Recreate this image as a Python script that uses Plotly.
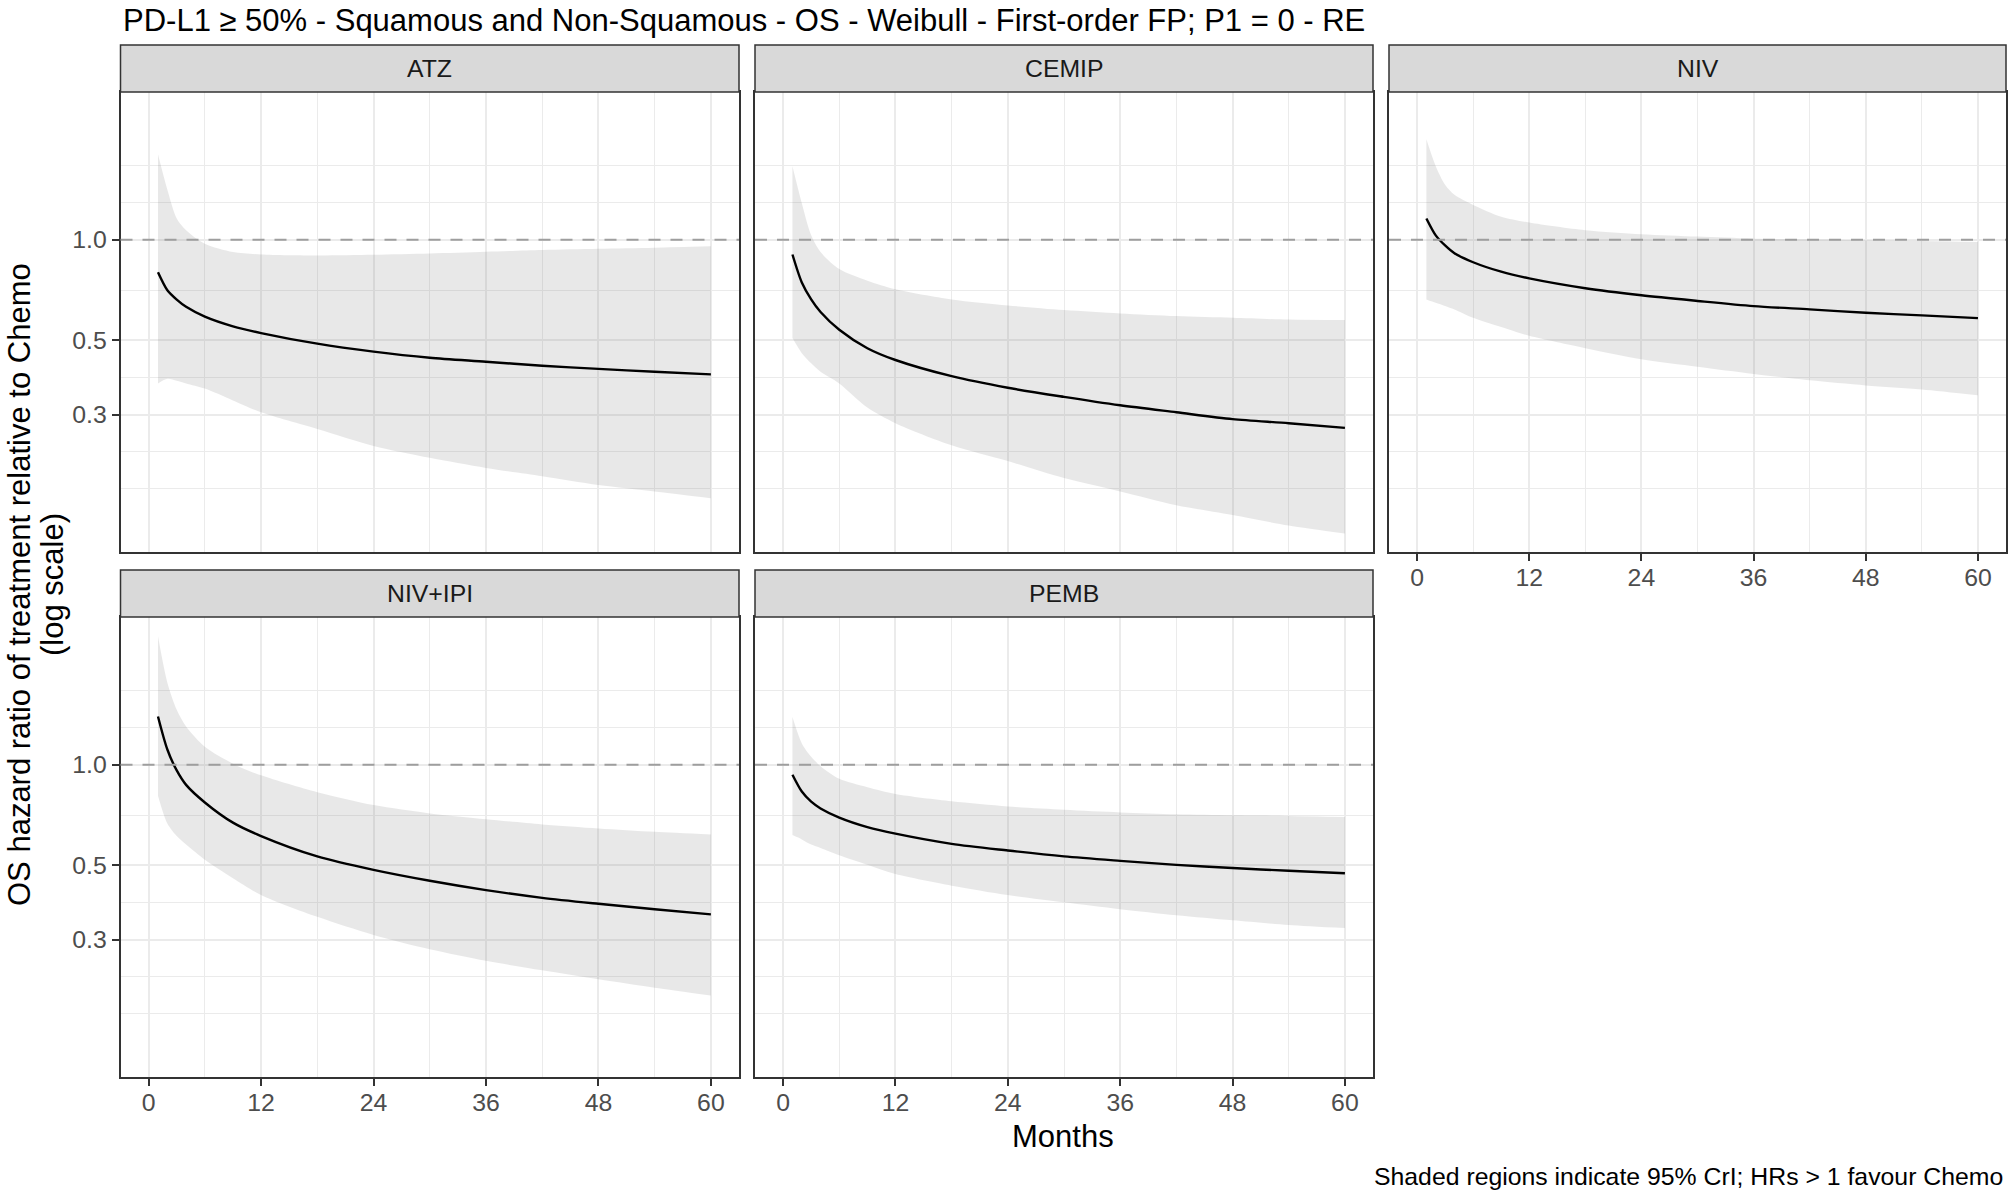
import numpy as np
import plotly.graph_objects as go

months = [1, 2, 3, 4, 6, 9, 12, 18, 24, 30, 36, 42, 48, 54, 60]

treatments = ["ATZ", "CEMIP", "NIV", "NIV+IPI", "PEMB"]

# hazard ratio (median) and 95% CrI per treatment
atz_hr = [0.799, 0.706, 0.662, 0.630, 0.589, 0.551, 0.526, 0.489, 0.463, 0.444, 0.432, 0.420, 0.411, 0.403, 0.396]
atz_hi = [1.80, 1.41, 1.157, 1.067, 0.972, 0.918, 0.903, 0.897, 0.901, 0.909, 0.920, 0.931, 0.939, 0.946, 0.955]
atz_lo = [0.372, 0.384, 0.379, 0.372, 0.359, 0.331, 0.305, 0.272, 0.242, 0.223, 0.208, 0.1965, 0.185, 0.177, 0.169]

cemip_hr = [0.903, 0.745, 0.663, 0.608, 0.538, 0.474, 0.437, 0.391, 0.361, 0.339, 0.320, 0.305, 0.291, 0.283, 0.274]
cemip_hi = [1.658, 1.284, 1.03, 0.918, 0.817, 0.754, 0.711, 0.663, 0.636, 0.616, 0.602, 0.591, 0.584, 0.577, 0.575]
cemip_lo = [0.508, 0.458, 0.427, 0.403, 0.372, 0.315, 0.283, 0.243, 0.218, 0.194, 0.177, 0.161, 0.1505, 0.140, 0.1325]

niv_hr = [1.157, 1.03, 0.961, 0.911, 0.856, 0.802, 0.766, 0.716, 0.682, 0.656, 0.633, 0.619, 0.605, 0.594, 0.583]
niv_hi = [1.995, 1.658, 1.459, 1.361, 1.27, 1.171, 1.125, 1.067, 1.038, 1.021, 1.007, 1.002, 0.995, 0.991, 0.984]
niv_lo = [0.663, 0.648, 0.634, 0.619, 0.584, 0.548, 0.516, 0.474, 0.439, 0.417, 0.397, 0.380, 0.367, 0.357, 0.343]

nivipi_hr = [1.393, 1.11, 0.961, 0.870, 0.771, 0.671, 0.612, 0.532, 0.485, 0.450, 0.422, 0.400, 0.384, 0.370, 0.357]
nivipi_hi = [2.418, 1.757, 1.459, 1.30, 1.131, 1.007, 0.929, 0.827, 0.757, 0.715, 0.687, 0.663, 0.645, 0.630, 0.619]
nivipi_lo = [0.808, 0.667, 0.612, 0.577, 0.520, 0.458, 0.408, 0.351, 0.310, 0.281, 0.2595, 0.243, 0.2285, 0.2157, 0.2044]

pemb_hr = [0.933, 0.831, 0.775, 0.740, 0.695, 0.651, 0.622, 0.580, 0.554, 0.532, 0.516, 0.502, 0.491, 0.482, 0.474]
pemb_hi = [1.387, 1.157, 1.055, 0.989, 0.907, 0.856, 0.817, 0.777, 0.750, 0.733, 0.720, 0.711, 0.706, 0.703, 0.698]
pemb_lo = [0.616, 0.598, 0.577, 0.564, 0.536, 0.502, 0.471, 0.435, 0.408, 0.388, 0.370, 0.355, 0.343, 0.332, 0.325]

hr_series = [atz_hr, cemip_hr, niv_hr, nivipi_hr, pemb_hr]
hi_series = [atz_hi, cemip_hi, niv_hi, nivipi_hi, pemb_hi]
lo_series = [atz_lo, cemip_lo, niv_lo, nivipi_lo, pemb_lo]

x_ticks = [0, 12, 24, 36, 48, 60]
y_ticks = [0.3, 0.5, 1.0]
y_ticktext = ["0.3", "0.5", "1.0"]

title = "PD-L1 \u2265 50% - Squamous and Non-Squamous - OS - Weibull - First-order FP; P1 = 0 - RE"
caption = "Shaded regions indicate 95% CrI; HRs > 1 favour Chemo"

# ---- layout geometry (pixels) ----
W, H = 2008, 1192
cols = [(120.5, 739), (755, 1373), (1389, 2006)]
rows = [(92, 552), (617, 1077)]
strip_h = 47
FONT = "Liberation Sans, Arial, sans-serif"
BASE = 31
SMALL = 24.8

# ggplot-style minor breaks on the log scale: midpoints between major breaks
lb = np.log10(y_ticks)
step = lb[1] - lb[0]
ext = np.concatenate([[lb[0] - step], lb, [lb[-1] + step]])
y_minor = list(10 ** ((ext[:-1] + ext[1:]) / 2)) + [10 ** ext[0], 10 ** ext[-1]]
x_minor = [6, 18, 30, 42, 54]

fig = go.Figure()
layout = dict(
    width=W, height=H,
    margin=dict(l=0, r=0, t=0, b=0),
    paper_bgcolor="white", plot_bgcolor="white",
    showlegend=False,
    font=dict(family=FONT, color="#1A1A1A"),
)
shapes = []
annotations = []

for i, name in enumerate(treatments):
    r, c = divmod(i, 3)
    n = i + 1
    xa = "x" if n == 1 else f"x{n}"
    ya = "y" if n == 1 else f"y{n}"

    fig.add_trace(go.Scatter(x=months, y=lo_series[i], mode="lines",
                             line=dict(width=0, shape="spline", smoothing=0.8),
                             hoverinfo="skip", xaxis=xa, yaxis=ya))
    fig.add_trace(go.Scatter(x=months, y=hi_series[i], mode="lines",
                             line=dict(width=0, shape="spline", smoothing=0.8),
                             fill="tonexty", fillcolor="rgba(128,128,128,0.18)",
                             hoverinfo="skip", xaxis=xa, yaxis=ya))
    fig.add_trace(go.Scatter(x=months, y=hr_series[i], mode="lines",
                             line=dict(color="black", width=2.4, shape="spline", smoothing=0.8),
                             xaxis=xa, yaxis=ya, name=name))

    x0, x1 = cols[c]
    y0, y1 = rows[r]
    show_x = (r == 1) or (c == 2)
    show_y = (c == 0)
    layout[f"xaxis{n if n > 1 else ''}"] = dict(
        domain=[x0 / W, x1 / W], anchor=ya, range=[-3, 63],
        tickvals=x_ticks, showticklabels=show_x,
        ticks="outside" if show_x else "", ticklen=7, tickwidth=1.5, tickcolor="#333333",
        tickfont=dict(size=SMALL, color="#4D4D4D", family=FONT),
        ticklabelstandoff=-5,
        showgrid=True, gridcolor="#EBEBEB", gridwidth=2,
        minor=dict(tickvals=x_minor, showgrid=True, gridcolor="#EBEBEB", gridwidth=1, ticks=""),
        showline=True, mirror=True, linecolor="#333333", linewidth=1.5,
        zeroline=False, fixedrange=True,
    )
    layout[f"yaxis{n if n > 1 else ''}"] = dict(
        domain=[1 - y1 / H, 1 - y0 / H], anchor=xa, type="log",
        range=[-0.933, 0.441],
        tickvals=y_ticks, ticktext=y_ticktext, showticklabels=show_y,
        ticks="outside" if show_y else "", ticklen=7, tickwidth=1.5, tickcolor="#333333",
        tickfont=dict(size=SMALL, color="#4D4D4D", family=FONT),
        showgrid=True, gridcolor="#EBEBEB", gridwidth=2,
        minor=dict(tickvals=y_minor, showgrid=True, gridcolor="#EBEBEB", gridwidth=1, ticks=""),
        showline=True, mirror=True, linecolor="#333333", linewidth=1.5,
        zeroline=False, fixedrange=True,
    )

    # reference line at HR = 1
    shapes.append(dict(type="line", xref=f"{xa} domain", yref=ya, x0=0, x1=1, y0=1, y1=1,
                       line=dict(color="#9E9E9E", width=2, dash="12px,10px"), layer="above"))
    # facet strip
    shapes.append(dict(type="rect", xref="paper", yref="paper",
                       x0=x0 / W, x1=x1 / W, y0=1 - y0 / H, y1=1 - (y0 - strip_h) / H,
                       fillcolor="#D9D9D9", line=dict(color="#333333", width=1.5), layer="above"))
    annotations.append(dict(text=name, xref="paper", yref="paper",
                            x=(x0 + x1) / 2 / W, y=1 - (y0 - strip_h / 2) / H,
                            xanchor="center", yanchor="middle", showarrow=False,
                            font=dict(size=SMALL, color="#1A1A1A", family=FONT)))

annotations += [
    dict(text=title, xref="paper", yref="paper", x=cols[0][0] / W, y=1 - 1 / H,
         xanchor="left", yanchor="top", showarrow=False,
         font=dict(size=BASE, color="black", family=FONT)),
    dict(text="Months", xref="paper", yref="paper", x=(cols[0][0] + cols[2][1]) / 2 / W,
         y=1 - 1136 / H, xanchor="center", yanchor="middle", showarrow=False,
         font=dict(size=BASE, color="black", family=FONT)),
    dict(text="OS hazard ratio of treatment relative to Chemo", xref="paper", yref="paper",
         x=19 / W, y=1 - 585 / H, xanchor="center", yanchor="middle", textangle=-90,
         showarrow=False, font=dict(size=BASE, color="black", family=FONT)),
    dict(text="(log scale)", xref="paper", yref="paper",
         x=52 / W, y=1 - 585 / H, xanchor="center", yanchor="middle", textangle=-90,
         showarrow=False, font=dict(size=BASE, color="black", family=FONT)),
    dict(text=caption, xref="paper", yref="paper", x=2005 / W, y=0,
         xanchor="right", yanchor="bottom", showarrow=False,
         font=dict(size=SMALL, color="black", family=FONT)),
]

layout["shapes"] = shapes
layout["annotations"] = annotations
fig.update_layout(**layout)

# drop the browser's default body margin so the figure sits at the page corner
fig.write_html("out.html", config={"displayModeBar": False},
               post_script="document.body.style.margin='0px';")
